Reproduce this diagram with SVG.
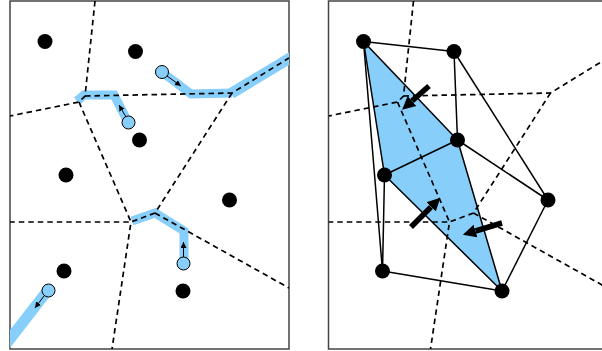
<svg xmlns="http://www.w3.org/2000/svg" width="602" height="351" viewBox="0 0 602 351">
<style>
.frame{fill:none;stroke:#444;stroke-width:1.5}
.vor{fill:none;stroke:#000;stroke-width:1.7;stroke-dasharray:5.5 4}
.band{fill:none;stroke:#87cefa;stroke-width:9;stroke-linejoin:miter;stroke-linecap:butt}
.wide{stroke-width:11}
.dot{fill:#000}
.agent{fill:#87cefa;stroke:#000;stroke-width:1}
.small{stroke:#000;stroke-width:1;fill:none}
.big{stroke:#000;stroke-width:5.5;fill:none}
.edge{stroke:#000;stroke-width:1.5;fill:none}
</style>
<defs>
<clipPath id="clipL"><rect x="10" y="1" width="279" height="348"/></clipPath>
<clipPath id="clipR"><rect x="328.5" y="1" width="280" height="348"/></clipPath>
<marker id="sa" viewBox="0 0 10 10" refX="10" refY="5" markerWidth="6" markerHeight="6" markerUnits="userSpaceOnUse" orient="auto"><path d="M0,0 L10,5 L0,10 z" fill="#000"/></marker>
<marker id="ba" viewBox="0 0 10 10" refX="0" refY="5" markerWidth="2.4" markerHeight="2.6" orient="auto"><path d="M0,0 L10,5 L0,10 z" fill="#000"/></marker>
</defs>

<g id="left-panel">
<rect class="frame" x="10" y="1" width="279" height="348"/>
<g id="left-bands" clip-path="url(#clipL)">
<path class="band" d="M128,122 L114,95 L84,95 L77,101"/>
<path class="band" d="M162,72 L191,94 L232,93"/>
<path class="band wide" d="M231,93.5 L300,52"/>
<path class="band" d="M184,263 L184,231 L155,213 L132,221"/>
<path class="band wide" d="M48,290 L0,352"/>
</g>
<g id="left-voronoi" clip-path="url(#clipL)">
<path class="vor" d="M95,1 L85,96 L79,102 L10,116"/>
<path class="vor" d="M85,96 L232,93 L289,58"/>
<path class="vor" d="M79,102 L131,222 L10,222"/>
<path class="vor" d="M232,93 L155,213 L131,222 L112,349"/>
<path class="vor" d="M155,213 L289,288"/>
</g>
<g id="left-sites">
<circle class="dot" cx="45" cy="41.5" r="7.5"/>
<circle class="dot" cx="135.5" cy="51.5" r="7.5"/>
<circle class="dot" cx="139.5" cy="140" r="7.5"/>
<circle class="dot" cx="66" cy="175" r="7.5"/>
<circle class="dot" cx="229.5" cy="200" r="7.5"/>
<circle class="dot" cx="64" cy="271" r="7.5"/>
<circle class="dot" cx="183" cy="291" r="7.5"/>
</g>
<g id="left-agents">
<circle class="agent" cx="162" cy="72" r="6.5"/>
<circle class="agent" cx="128.5" cy="122.5" r="6.5"/>
<circle class="agent" cx="183.5" cy="263.5" r="6.5"/>
<circle class="agent" cx="48.5" cy="290.5" r="6.5"/>
</g>
<g id="left-arrows">
<line class="small" x1="167" y1="76" x2="181" y2="86" marker-end="url(#sa)"/>
<line class="small" x1="126" y1="117" x2="119" y2="105" marker-end="url(#sa)"/>
<line class="small" x1="183.5" y1="257" x2="183.5" y2="242" marker-end="url(#sa)"/>
<line class="small" x1="44" y1="296" x2="35" y2="308" marker-end="url(#sa)"/>
</g>
</g>

<g id="right-panel">
<rect class="frame" x="328.5" y="1" width="280" height="348"/>
<g id="right-region">
<polygon points="363.5,41.5 457.5,140 502,291 384.5,175" fill="#87cefa"/>
</g>
<g id="right-voronoi" clip-path="url(#clipR)">
<path class="vor" d="M413.5,1 L403.5,96 L397.5,102 L328.5,116"/>
<path class="vor" d="M403.5,96 L550.5,93 L607.5,58"/>
<path class="vor" d="M397.5,102 L449.5,222 L328.5,222"/>
<path class="vor" d="M550.5,93 L473.5,213 L449.5,222 L430.5,349"/>
<path class="vor" d="M473.5,213 L607.5,288"/>
</g>
<g id="connectors">
<line class="edge" x1="363.5" y1="41.5" x2="454" y2="51.5"/>
<line class="edge" x1="363.5" y1="41.5" x2="457.5" y2="140"/>
<line class="edge" x1="363.5" y1="41.5" x2="384.5" y2="175"/>
<line class="edge" x1="363.5" y1="41.5" x2="382.5" y2="271"/>
<line class="edge" x1="454" y1="51.5" x2="457.5" y2="140"/>
<line class="edge" x1="454" y1="51.5" x2="548" y2="200"/>
<line class="edge" x1="457.5" y1="140" x2="384.5" y2="175"/>
<line class="edge" x1="457.5" y1="140" x2="548" y2="200"/>
<line class="edge" x1="457.5" y1="140" x2="502" y2="291"/>
<line class="edge" x1="384.5" y1="175" x2="382.5" y2="271"/>
<line class="edge" x1="384.5" y1="175" x2="502" y2="291"/>
<line class="edge" x1="382.5" y1="271" x2="502" y2="291"/>
<line class="edge" x1="548" y1="200" x2="502" y2="291"/>
</g>
<g id="right-sites">
<circle class="dot" cx="363.5" cy="41.5" r="7.5"/>
<circle class="dot" cx="454" cy="51.5" r="7.5"/>
<circle class="dot" cx="457.5" cy="140" r="7.5"/>
<circle class="dot" cx="384.5" cy="175" r="7.5"/>
<circle class="dot" cx="548" cy="200" r="7.5"/>
<circle class="dot" cx="382.5" cy="271" r="7.5"/>
<circle class="dot" cx="502" cy="291" r="7.5"/>
</g>
<g id="right-arrows">
<line class="big" x1="429" y1="86" x2="412" y2="101" marker-end="url(#ba)"/>
<line class="big" x1="411" y1="227" x2="431" y2="207" marker-end="url(#ba)"/>
<line class="big" x1="502" y1="223" x2="475.5" y2="231" marker-end="url(#ba)"/>
</g>
</g>
</svg>
